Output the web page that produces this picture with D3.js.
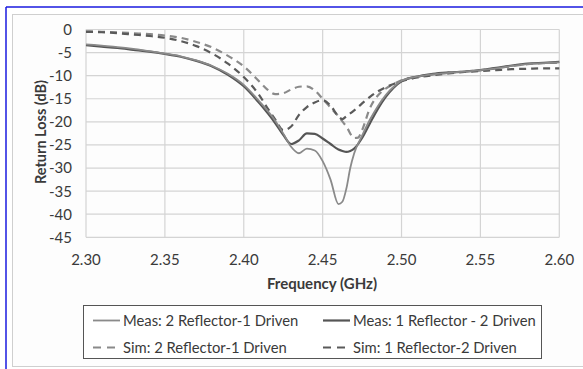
<!DOCTYPE html>
<html><head><meta charset="utf-8">
<script src="https://cdn.jsdelivr.net/npm/d3@7/dist/d3.min.js"></script>
<style>body{margin:0;background:#fff}svg{display:block}text{font-family:Lato,"Open Sans",sans-serif;fill:#3a3a3a}</style>
</head><body><svg id="c" width="583" height="369"></svg>
<script>
const xTicks = [2.30,2.35,2.40,2.45,2.50,2.55,2.60];
const yTicks = [0,-5,-10,-15,-20,-25,-30,-35,-40,-45];

const measFreq = [2.30,2.31,2.32,2.33,2.34,2.35,2.36,2.37,2.38,2.39,2.40,2.41,2.42,2.425,2.43,2.435,2.44,2.445,2.45,2.455,2.46,2.4625,2.465,2.4675,2.47,2.475,2.48,2.485,2.49,2.495,2.50,2.51,2.52,2.53,2.54,2.55,2.56,2.57,2.58,2.59,2.60];
const meas2R1D = [-3.2,-3.5,-3.8,-4.2,-4.7,-5.2,-5.8,-6.7,-7.9,-9.6,-12.0,-15.6,-19.8,-22.5,-25.4,-26.8,-25.8,-26.2,-28.5,-32.5,-37.8,-37.3,-34.5,-30.0,-26.8,-23.0,-19.5,-16.6,-14.2,-12.4,-11.1,-10.2,-9.7,-9.4,-9.1,-8.8,-8.4,-7.9,-7.5,-7.3,-7.1];
const meas1R2D = [-3.4,-3.7,-4.0,-4.4,-4.8,-5.3,-5.9,-6.8,-8.0,-9.8,-12.3,-16.0,-20.3,-22.8,-24.8,-24.0,-22.5,-22.6,-23.6,-24.8,-26.0,-26.3,-26.5,-26.3,-25.8,-23.5,-20.3,-17.2,-14.6,-12.6,-11.2,-10.2,-9.6,-9.3,-9.1,-8.8,-8.3,-7.8,-7.4,-7.2,-7.0];

const simFreq = [2.30,2.31,2.32,2.33,2.34,2.35,2.36,2.37,2.38,2.39,2.40,2.41,2.415,2.42,2.425,2.43,2.435,2.44,2.445,2.45,2.455,2.46,2.4625,2.465,2.47,2.4725,2.475,2.48,2.485,2.49,2.495,2.50,2.51,2.52,2.53,2.54,2.55,2.56,2.57,2.58,2.59,2.60];
const sim2R1D = [-0.4,-0.5,-0.6,-0.8,-1.0,-1.3,-1.8,-2.7,-3.9,-5.7,-8.0,-11.3,-13.0,-14.0,-13.8,-13.0,-12.4,-12.3,-13.2,-15.0,-16.9,-18.8,-19.9,-21.0,-23.5,-23.4,-21.8,-17.0,-14.3,-12.8,-11.8,-11.0,-10.2,-9.7,-9.4,-9.1,-8.8,-8.4,-7.9,-7.5,-7.3,-7.2];
const sim1R2D = [-0.5,-0.6,-0.8,-1.1,-1.4,-1.8,-2.5,-3.6,-5.2,-7.4,-10.3,-14.3,-17.0,-19.5,-21.8,-21.0,-18.5,-16.8,-15.8,-15.3,-16.5,-18.8,-19.4,-18.8,-17.5,-16.8,-16.0,-14.6,-13.4,-12.5,-11.8,-11.2,-10.4,-9.9,-9.5,-9.2,-9.0,-8.8,-8.6,-8.5,-8.4,-8.4];

const legendLabels = ["Meas: 2 Reflector-1 Driven","Meas: 1 Reflector - 2 Driven","Sim: 2 Reflector-1 Driven","Sim: 1 Reflector-2 Driven"];

const svg = d3.select("#c");
// frames
svg.append("rect").attr("x",12.5).attr("y",14.5).attr("width",580).attr("height",352).attr("fill","#fdfdfd").attr("stroke","#cfcfcf");
svg.append("line").attr("x1",6).attr("x2",583).attr("y1",7).attr("y2",7).attr("stroke","#1a1adf").attr("stroke-width",1.5);
svg.append("line").attr("x1",6).attr("x2",6).attr("y1",7).attr("y2",369).attr("stroke","#1a1adf").attr("stroke-width",1.5);

const x = d3.scaleLinear().domain([2.30,2.60]).range([86,559.3]);
const y = d3.scaleLinear().domain([0,-45]).range([29.5,237.3]);

const g = svg.append("g");
g.selectAll(".hg").data(yTicks).enter().append("line")
 .attr("x1",x(2.30)).attr("x2",x(2.60)).attr("y1",d=>y(d)).attr("y2",d=>y(d))
 .attr("stroke","#d4d4d4").attr("stroke-width",1.2);
g.selectAll(".vg").data(xTicks).enter().append("line")
 .attr("y1",y(0)).attr("y2",y(-45)).attr("x1",d=>x(d)).attr("x2",d=>x(d))
 .attr("stroke","#d4d4d4").attr("stroke-width",1.2);

g.selectAll(".yl").data(yTicks).enter().append("text")
 .attr("x",72).attr("y",d=>y(d)).attr("dy","0.36em").attr("text-anchor","end")
 .attr("font-size",15).text(d=>d);
g.selectAll(".xl").data(xTicks).enter().append("text")
 .attr("x",d=>x(d)).attr("y",260).attr("dy","0.36em").attr("text-anchor","middle")
 .attr("font-size",15).text(d=>d.toFixed(2));

svg.append("text").attr("x",322).attr("y",284).attr("dy","0.36em").attr("text-anchor","middle")
 .attr("font-size",15).attr("font-weight","bold").text("Frequency (GHz)");
svg.append("text").attr("transform","translate(41,132) rotate(-90)").attr("dy","0.36em").attr("text-anchor","middle")
 .attr("font-size",14.5).attr("font-weight","bold").text("Return Loss (dB)");

const line = d3.line().curve(d3.curveMonotoneX);
function draw(fr, vals, color, w, dash){
  g.append("path").attr("d", line(fr.map((f,i)=>[x(f),y(vals[i])])))
   .attr("fill","none").attr("stroke",color).attr("stroke-width",w)
   .attr("stroke-dasharray",dash||null);
}
const styles = [
 {c:"#8a8a8a",w:1.8,d:null},
 {c:"#555555",w:2.2,d:null},
 {c:"#8a8a8a",w:2.2,d:"7,5"},
 {c:"#5a5a5a",w:2.2,d:"7,5"}
];
draw(simFreq, sim2R1D, styles[2].c, styles[2].w, styles[2].d);
draw(simFreq, sim1R2D, styles[3].c, styles[3].w, styles[3].d);
draw(measFreq, meas1R2D, styles[1].c, styles[1].w, styles[1].d);
draw(measFreq, meas2R1D, styles[0].c, styles[0].w, styles[0].d);

// legend
svg.append("rect").attr("x",83.5).attr("y",305.5).attr("width",458).attr("height",53)
 .attr("fill","#fff").attr("stroke","#555").attr("stroke-width",1);
const lx=[93,323], ly=[320.5,347.5];
legendLabels.forEach((t,i)=>{
  const cx = lx[i%2], cy = ly[Math.floor(i/2)], s=styles[i];
  svg.append("line").attr("x1",cx).attr("x2",cx+27).attr("y1",cy).attr("y2",cy)
   .attr("stroke",s.c).attr("stroke-width",s.w).attr("stroke-dasharray",s.d?"8,6":null);
  svg.append("text").attr("x",cx+30).attr("y",cy).attr("dy","0.36em").attr("font-size",14.8).text(t);
});
</script></body></html>
